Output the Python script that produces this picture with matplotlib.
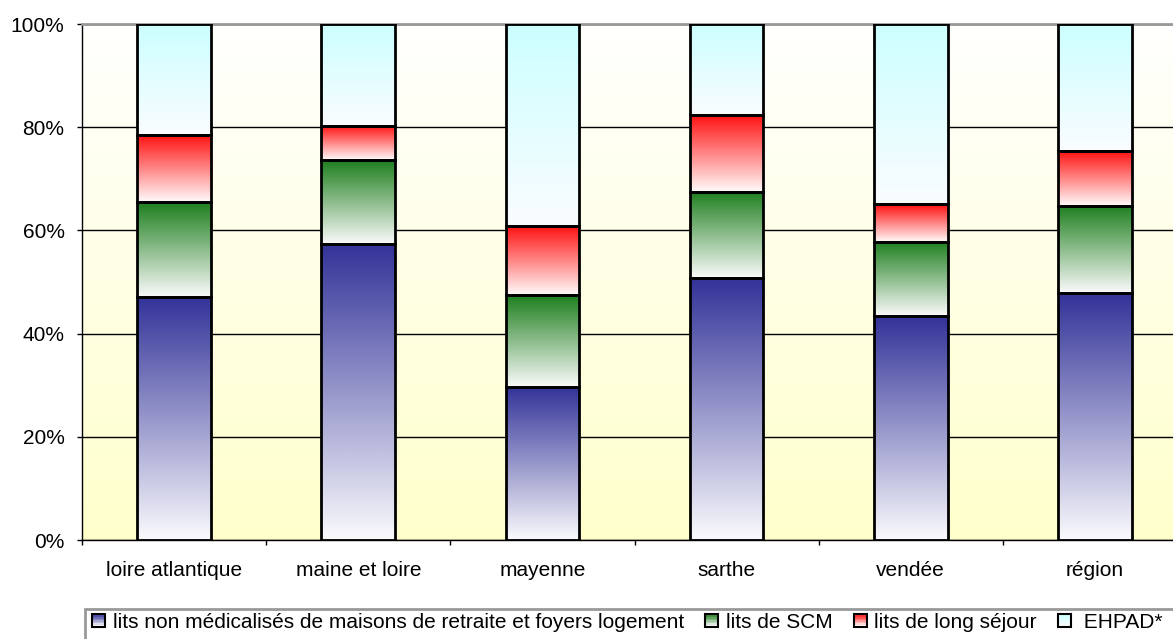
import numpy as np
import matplotlib
matplotlib.use("Agg")
import matplotlib.pyplot as plt
from matplotlib.colors import to_rgb
from matplotlib.legend_handler import HandlerBase
from matplotlib.patches import Rectangle

plt.rcParams["font.family"] = ["Liberation Sans", "DejaVu Sans"]

# ------------------------------------------------------------
# Données (parts en % des lits par département)
# ------------------------------------------------------------
categories = ["loire atlantique", "maine et loire", "mayenne", "sarthe", "vendée", "région"]
non_medicalises = [47.1, 57.4, 29.7, 50.7, 43.4, 47.8]
lits_scm = [18.4, 16.2, 17.8, 16.7, 14.4, 16.9]
long_sejour = [13.0, 6.7, 13.4, 15.0, 7.3, 10.7]
ehpad = [21.5, 19.7, 39.1, 17.6, 34.9, 24.6]

series_labels = [
    "lits non médicalisés de maisons de retraite et foyers logement",
    "lits de SCM",
    "lits de long séjour",
    " EHPAD*",
]
series_values = [non_medicalises, lits_scm, long_sejour, ehpad]

# dégradés : couleur en haut -> blanc en bas
GRADIENTS = [
    ("#333399", "#fafafd"),
    ("#1f7f1f", "#fafafa"),
    ("#ff1010", "#fffafa"),
    ("#ccffff", "#fafcff"),
]
FONT_SIZE = 15


def gradient(top, bottom, n=128):
    t = np.linspace(0, 1, n)[:, None]
    c0 = np.array(to_rgb(top))
    c1 = np.array(to_rgb(bottom))
    return (c0 * (1 - t) + c1 * t)[:, None, :]


class GradientKey:
    def __init__(self, colors):
        self.colors = colors


class GradientHandler(HandlerBase):
    def create_artists(self, legend, orig_handle, xdescent, ydescent,
                       width, height, fontsize, trans):
        top, bottom = orig_handle.colors
        s = height * 0.85
        x0 = -xdescent + (width - s) / 2
        y0 = -ydescent + (height - s) / 2
        arts = []
        n = 8
        for i in range(n):
            t = i / (n - 1)
            c = np.array(to_rgb(top)) * (1 - t) + np.array(to_rgb(bottom)) * t
            arts.append(Rectangle((x0, y0 + s - (i + 1) * s / n), s, s / n,
                                  facecolor=c, edgecolor="none", transform=trans))
        arts.append(Rectangle((x0, y0), s, s, facecolor="none", edgecolor="black",
                              linewidth=1.5, transform=trans))
        return arts


# ------------------------------------------------------------
# Figure
# ------------------------------------------------------------
fig = plt.figure(figsize=(11.73, 6.39), dpi=100)
ax = fig.add_axes([82 / 1173, 99 / 639, 1105 / 1173, 516 / 639])

# fond du graphique : blanc -> jaune pâle
ax.imshow(gradient("#fffffe", "#ffffcc"), extent=(0, 1, 0, 1), transform=ax.transAxes,
          aspect="auto", zorder=0.1, interpolation="bilinear")

x = np.arange(len(categories))
bottom = np.zeros(len(categories))
for vals, (c_top, c_bot) in zip(series_values, GRADIENTS):
    bars = ax.bar(x, vals, 0.4, bottom=bottom, facecolor="none",
                  edgecolor="black", linewidth=2.0, zorder=3)
    for p in bars:
        im = ax.imshow(gradient(c_top, c_bot),
                       extent=(p.get_x(), p.get_x() + p.get_width(),
                               p.get_y(), p.get_y() + p.get_height()),
                       aspect="auto", zorder=2, interpolation="bilinear")
        im.set_clip_path(p)
    bottom += np.array(vals)

ax.set_xlim(-0.5, len(categories) - 0.5)
ax.set_ylim(0, 100)

ax.set_axisbelow(True)
ax.yaxis.grid(True, color="black", linewidth=1.0)

ax.set_yticks(range(0, 101, 20))
ax.set_yticklabels([f"{v}%" for v in range(0, 101, 20)])
ax.tick_params(axis="y", direction="out", length=3.6, width=1, labelsize=FONT_SIZE, pad=9)

ax.set_xticks(x)
ax.set_xticklabels(categories)
ax.set_xticks(np.arange(-0.5, len(categories), 1), minor=True)
ax.tick_params(axis="x", which="major", length=0, labelsize=FONT_SIZE, pad=15)
ax.tick_params(axis="x", which="minor", direction="out", length=3.6, width=1)

ax.spines["top"].set_color("#999999")
ax.spines["top"].set_linewidth(2)
ax.spines["right"].set_visible(False)
ax.spines["left"].set_linewidth(1)
ax.spines["bottom"].set_linewidth(1)

# cadre de la légende (ouvert vers le bas et la droite)
fig.patches.append(Rectangle((85 / 1173, -0.1), 1.2, (1 - 609 / 639) + 0.1,
                             transform=fig.transFigure, fill=False,
                             edgecolor="#999999", linewidth=2))

handles = [GradientKey(g) for g in GRADIENTS]
leg = fig.legend(handles, series_labels, handler_map={GradientKey: GradientHandler()},
                 loc="center left", bbox_to_anchor=(91 / 1173, 1 - 622 / 639),
                 ncol=4, fontsize=FONT_SIZE, frameon=False,
                 handlelength=0.75, handleheight=0.75,
                 handletextpad=0.3, columnspacing=0.95, borderpad=0, borderaxespad=0)

fig.savefig("out.png", dpi=100)
